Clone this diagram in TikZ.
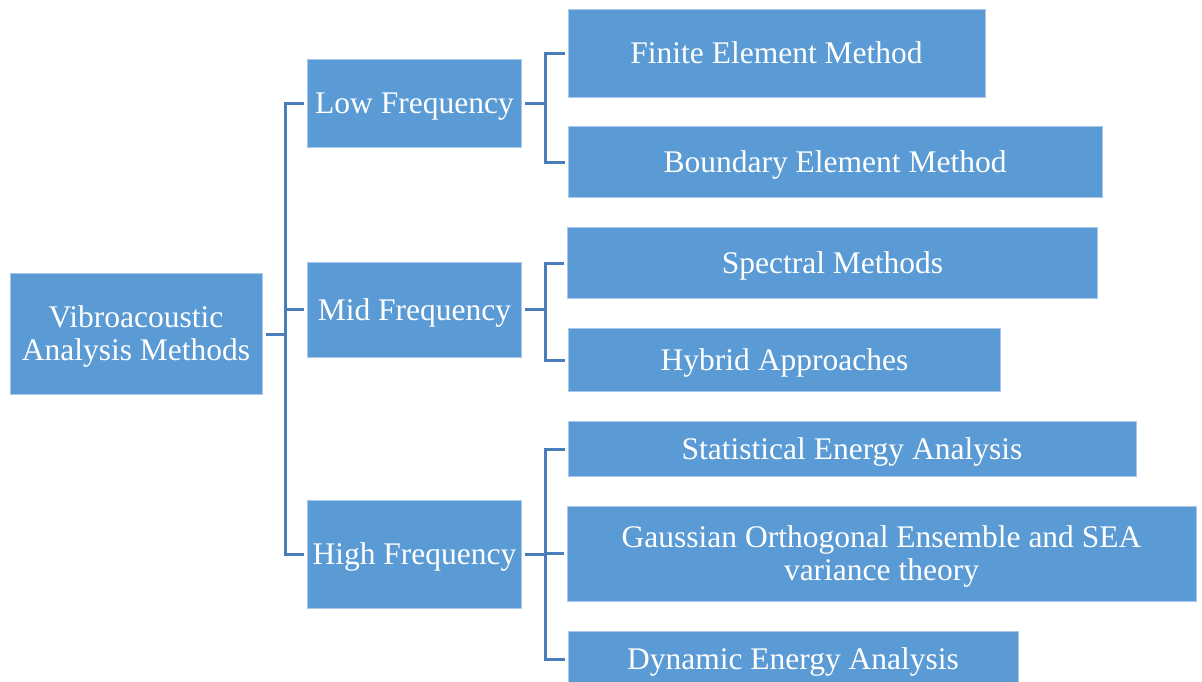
\documentclass[tikz,border=0pt]{standalone}
\usepackage{fontspec}
\setmainfont{Liberation Serif}
\definecolor{boxfill}{RGB}{91,155,213}
\definecolor{boxedge}{RGB}{170,200,235}
\definecolor{linec}{RGB}{74,126,187}
\begin{document}
\begin{tikzpicture}[x=1pt,y=-1pt,
  nbox/.style={draw=boxedge,line width=1pt,fill=boxfill,text=white,inner sep=0pt,
    font=\fontsize{31.5}{33}\selectfont},
  oneline/.style={nbox,text height=26pt,text depth=5pt},
  conn/.style={draw=linec,line width=3pt,shorten <=3pt,shorten >=3pt}]
\useasboundingbox (0,0) rectangle (1202,681);
\clip (0,0) rectangle (1202,681);
\node[nbox,minimum width=252pt,minimum height=121pt] (root) at (136,334)
  {\raisebox{-3.5pt}[\height][\depth]{\begin{tabular}{@{}c@{}}Vibroacoustic\\Analysis Methods\end{tabular}}};
\node[oneline,minimum width=214pt,minimum height=88pt] (low) at (414.5,103.3) {Low Frequency};
\node[oneline,minimum width=214pt,minimum height=95pt] (mid) at (414.5,309.5) {Mid Frequency};
\node[oneline,minimum width=214pt,minimum height=108pt] (high) at (414.5,554) {High Frequency};
\node[oneline,minimum width=417pt,minimum height=88pt] (fem) at (776.5,53) {Finite Element Method};
\node[oneline,minimum width=534pt,minimum height=70.6pt] (bem) at (835,162) {Boundary Element Method};
\node[oneline,minimum width=530pt,minimum height=71pt] (spec) at (832.5,263) {Spectral Methods};
\node[oneline,minimum width=432pt,minimum height=63pt] (hyb) at (784.5,360) {Hybrid Approaches};
\node[oneline,minimum width=568pt,minimum height=55pt] (sea) at (852,449) {Statistical Energy Analysis};
\node[nbox,minimum width=629pt,minimum height=95pt] (goe) at (881.5,553.5)
  {\raisebox{-4pt}[\height][\depth]{\begin{tabular}{@{}c@{}}Gaussian Orthogonal Ensemble and SEA\\variance theory\end{tabular}}};
\node[oneline,minimum width=450pt,minimum height=56pt] (dea) at (793,659) {Dynamic Energy Analysis};
\foreach \c in {low,mid,high}
  \draw[conn] (root.east) -- ++(22.5,0) |- (\c.west);
\foreach \c in {fem,bem}
  \draw[conn] (low.east) -- ++(23,0) |- (\c.west);
\foreach \c in {spec,hyb}
  \draw[conn] (mid.east) -- ++(23,0) |- (\c.west);
\foreach \c in {sea,goe,dea}
  \draw[conn] (high.east) -- ++(23,0) |- (\c.west);
\end{tikzpicture}
\end{document}
